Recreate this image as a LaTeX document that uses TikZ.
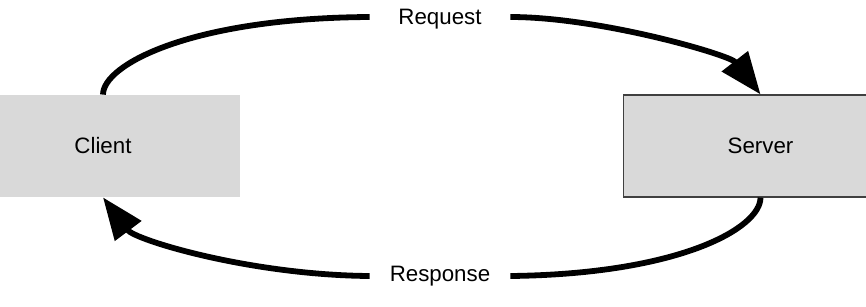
\documentclass[tikz,border=0pt]{standalone}
\usepackage{fontspec}
\setmainfont{Liberation Sans}
\usetikzlibrary{arrows.meta}
\definecolor{boxgray}{HTML}{D9D9D9}
\definecolor{boxline}{HTML}{404040}
\tikzset{
  box/.style={fill=boxgray, minimum width=137pt, minimum height=51pt, inner sep=0pt,
    font=\fontsize{11.15}{13}\selectfont},
  lbl/.style={minimum width=70pt, inner sep=0pt, font=\fontsize{11.15}{13}\selectfont},
  conn/.style={line width=2.9pt},
  tipped/.style={conn, -{Triangle[length=21pt,width=16pt]}}
}
\begin{document}
\begin{tikzpicture}[x=0.5pt,y=-0.5pt]
\useasboundingbox (0,0) rectangle (866,306);
\clip (0,0) rectangle (866,306);
\node[box] (client) at (103,146) {Client};
\node[box, draw=boxline, line width=0.6pt] (server) at (760.5,146) {Server};
\node[lbl] (req) at (440,19) {Request};
\node[lbl] (resp) at (440,276) {Response};
\draw[conn] (client.north) .. controls (103,65) and (190,18) .. ([yshift=1pt]req.west);
\draw[tipped] ([yshift=1pt]req.east) .. controls (600,17) and (730,55) .. (server.north);
\draw[conn] (server.south) .. controls (760.5,228) and (680,274) .. (resp.east);
\draw[tipped] (resp.west) .. controls (250,275) and (135,240) .. (client.south);
\end{tikzpicture}
\end{document}
